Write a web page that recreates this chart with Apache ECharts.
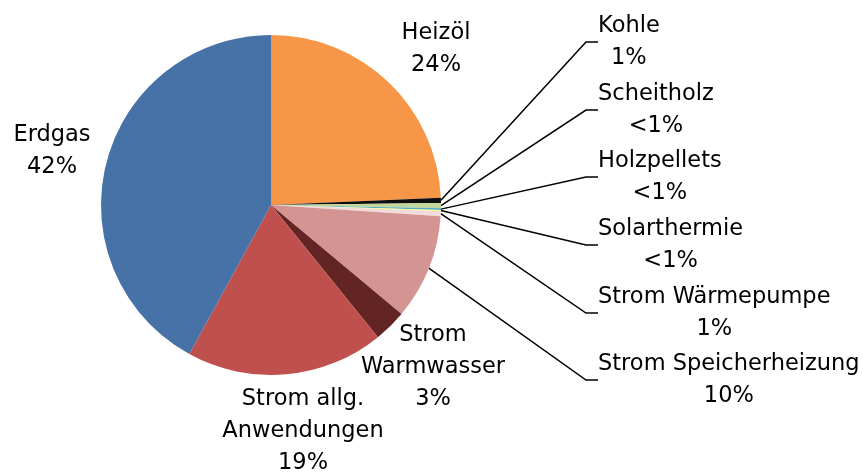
<!DOCTYPE html>
<html>
<head>
<meta charset="utf-8">
<script src="https://cdn.jsdelivr.net/npm/echarts@6/dist/echarts.min.js"></script>
<style>
html,body{margin:0;padding:0;background:#fff;}
#chart{width:863px;height:474px;}
</style>
</head>
<body>
<div id="chart"></div>
<script>
// Data
const categories = ['Heizöl','Kohle','Scheitholz','Holzpellets','Solarthermie','Strom Wärmepumpe','Strom Speicherheizung','Strom Warmwasser','Strom allg. Anwendungen','Erdgas'];
const labelNames = ['Heizöl','Kohle','Scheitholz','Holzpellets','Solarthermie','Strom Wärmepumpe','Strom Speicherheizung','Strom\nWarmwasser','Strom allg.\nAnwendungen','Erdgas'];
const values = [24.3, 0.5, 0.5, 0.15, 0.1, 0.5, 10.0, 3.1, 18.8, 42.0];
const percentLabels = ['24%','1%','<1%','<1%','<1%','1%','10%','3%','19%','42%'];

// Styling / layout
const colors = ['#F79646','#0D0D0D','#C3D69B','#4BACC6','#FFFF66','#F2DCDB','#D49592','#632523','#C0504D','#4672A8'];
// [x, y(text centre), mode] mode 'c' = centre x, 'l' = left edge x
const labelPos = [[436,49,'c'],[598,42,'l'],[598,110,'l'],[598,177,'l'],[598,245,'l'],[598,313,'l'],[598,380,'l'],[433,367,'c'],[303,431,'c'],[52,151,'c']];
const withLine = [false,true,true,true,true,true,true,false,false,false];

const chart = echarts.init(document.getElementById('chart'), null, {renderer:'canvas'});
chart.setOption({
  animation: false,
  series: [{
    type: 'pie',
    center: [271, 205],
    radius: [0, 170],
    startAngle: 90,
    clockwise: true,
    avoidLabelOverlap: false,
    data: categories.map((c, i) => ({
      name: c,
      value: values[i],
      itemStyle: { color: colors[i] },
      label: { formatter: labelNames[i] + '\n' + percentLabels[i] },
      labelLine: { show: withLine[i] }
    })),
    label: {
      show: true,
      position: 'outside',
      fontFamily: 'DejaVu Sans',
      fontSize: 22.5,
      lineHeight: 32,
      color: '#000',
      align: 'center'
    },
    labelLine: {
      lineStyle: { color: '#000', width: 1.5 },
      length: 20,
      length2: 12
    },
    labelLayout: function (p) {
      const i = p.dataIndex;
      const pos = labelPos[i];
      const x = pos[2] === 'l' ? pos[0] + p.labelRect.width / 2 : pos[0];
      return { x: x, y: pos[1], align: 'center', verticalAlign: 'middle' };
    }
  }]
});
</script>
</body>
</html>
